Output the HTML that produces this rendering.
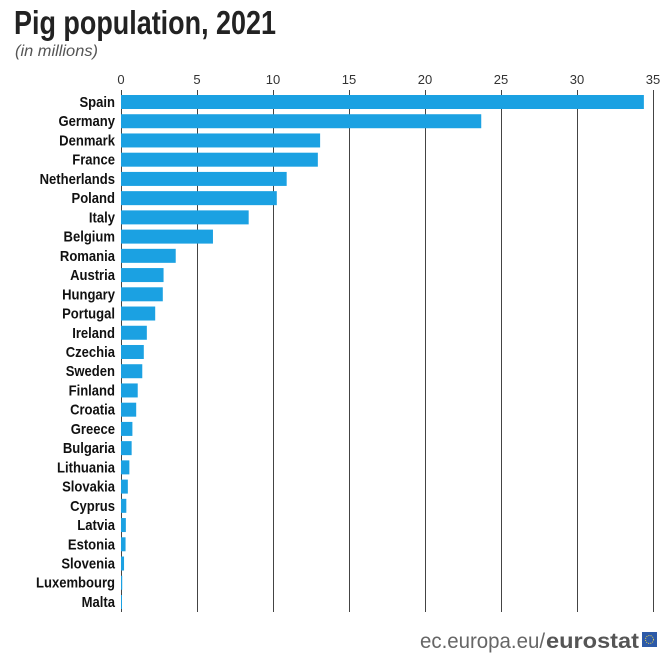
<!DOCTYPE html>
<html><head><meta charset="utf-8"><style>
html,body{margin:0;padding:0;background:#fff;}
svg{display:block;font-family:"Liberation Sans",sans-serif;}
</style></head><body>
<svg width="668" height="656" viewBox="0 0 668 656">
<text x="14" y="34" font-size="33" font-weight="bold" fill="#222" textLength="262" lengthAdjust="spacingAndGlyphs">Pig population, 2021</text>
<text x="15" y="56" font-size="16" font-style="italic" fill="#555" textLength="83" lengthAdjust="spacingAndGlyphs">(in millions)</text>
<g stroke="#444" stroke-width="1">
<line x1="121.5" y1="90" x2="121.5" y2="612"/>
<line x1="197.5" y1="90" x2="197.5" y2="612"/>
<line x1="273.5" y1="90" x2="273.5" y2="612"/>
<line x1="349.5" y1="90" x2="349.5" y2="612"/>
<line x1="425.5" y1="90" x2="425.5" y2="612"/>
<line x1="501.5" y1="90" x2="501.5" y2="612"/>
<line x1="577.5" y1="90" x2="577.5" y2="612"/>
<line x1="653.5" y1="90" x2="653.5" y2="612"/>
</g>
<g font-size="13" fill="#333" text-anchor="middle">
<text x="121" y="84">0</text><text x="197" y="84">5</text><text x="273" y="84">10</text><text x="349" y="84">15</text><text x="425" y="84">20</text><text x="501" y="84">25</text><text x="577" y="84">30</text><text x="653" y="84">35</text>
</g>
<g id="bars"></g>
<g id="labels" font-size="14.5" font-weight="bold" fill="#111" text-anchor="end"></g>
<text x="420" y="648" font-size="21" fill="#666" textLength="125" lengthAdjust="spacingAndGlyphs">ec.europa.eu/</text>
<text x="546" y="648" font-size="21" font-weight="bold" fill="#555" textLength="93" lengthAdjust="spacingAndGlyphs">eurostat</text>
<rect x="642" y="632" width="15" height="15" fill="#2d5aa8"/>
<circle cx="649.5" cy="639.5" r="4" fill="none" stroke="#e8d24a" stroke-width="1" stroke-dasharray="1 1.2"/>
</svg>
<script>
var d=[["Spain",34.4],["Germany",23.7],["Denmark",13.1],["France",12.95],["Netherlands",10.9],["Poland",10.25],["Italy",8.4],["Belgium",6.05],["Romania",3.6],["Austria",2.8],["Hungary",2.75],["Portugal",2.25],["Ireland",1.7],["Czechia",1.5],["Sweden",1.4],["Finland",1.1],["Croatia",1.0],["Greece",0.75],["Bulgaria",0.7],["Lithuania",0.55],["Slovakia",0.45],["Cyprus",0.35],["Latvia",0.32],["Estonia",0.3],["Slovenia",0.2],["Luxembourg",0.08],["Malta",0.04]];
var ns="http://www.w3.org/2000/svg",b=document.getElementById("bars"),l=document.getElementById("labels");
d.forEach(function(r,i){var cy=102+i*19.23;
var re=document.createElementNS(ns,"rect");re.setAttribute("x",121);re.setAttribute("y",cy-7);re.setAttribute("width",Math.max(1,r[1]*15.2));re.setAttribute("height",14);re.setAttribute("fill","#1ba1e2");b.appendChild(re);
var t=document.createElementNS(ns,"text");t.setAttribute("x",115);t.setAttribute("y",cy+5);t.textContent=r[0];t.setAttribute("transform","translate(115,0) scale(0.9,1) translate(-115,0)");l.appendChild(t);});
</script>
</body></html>
